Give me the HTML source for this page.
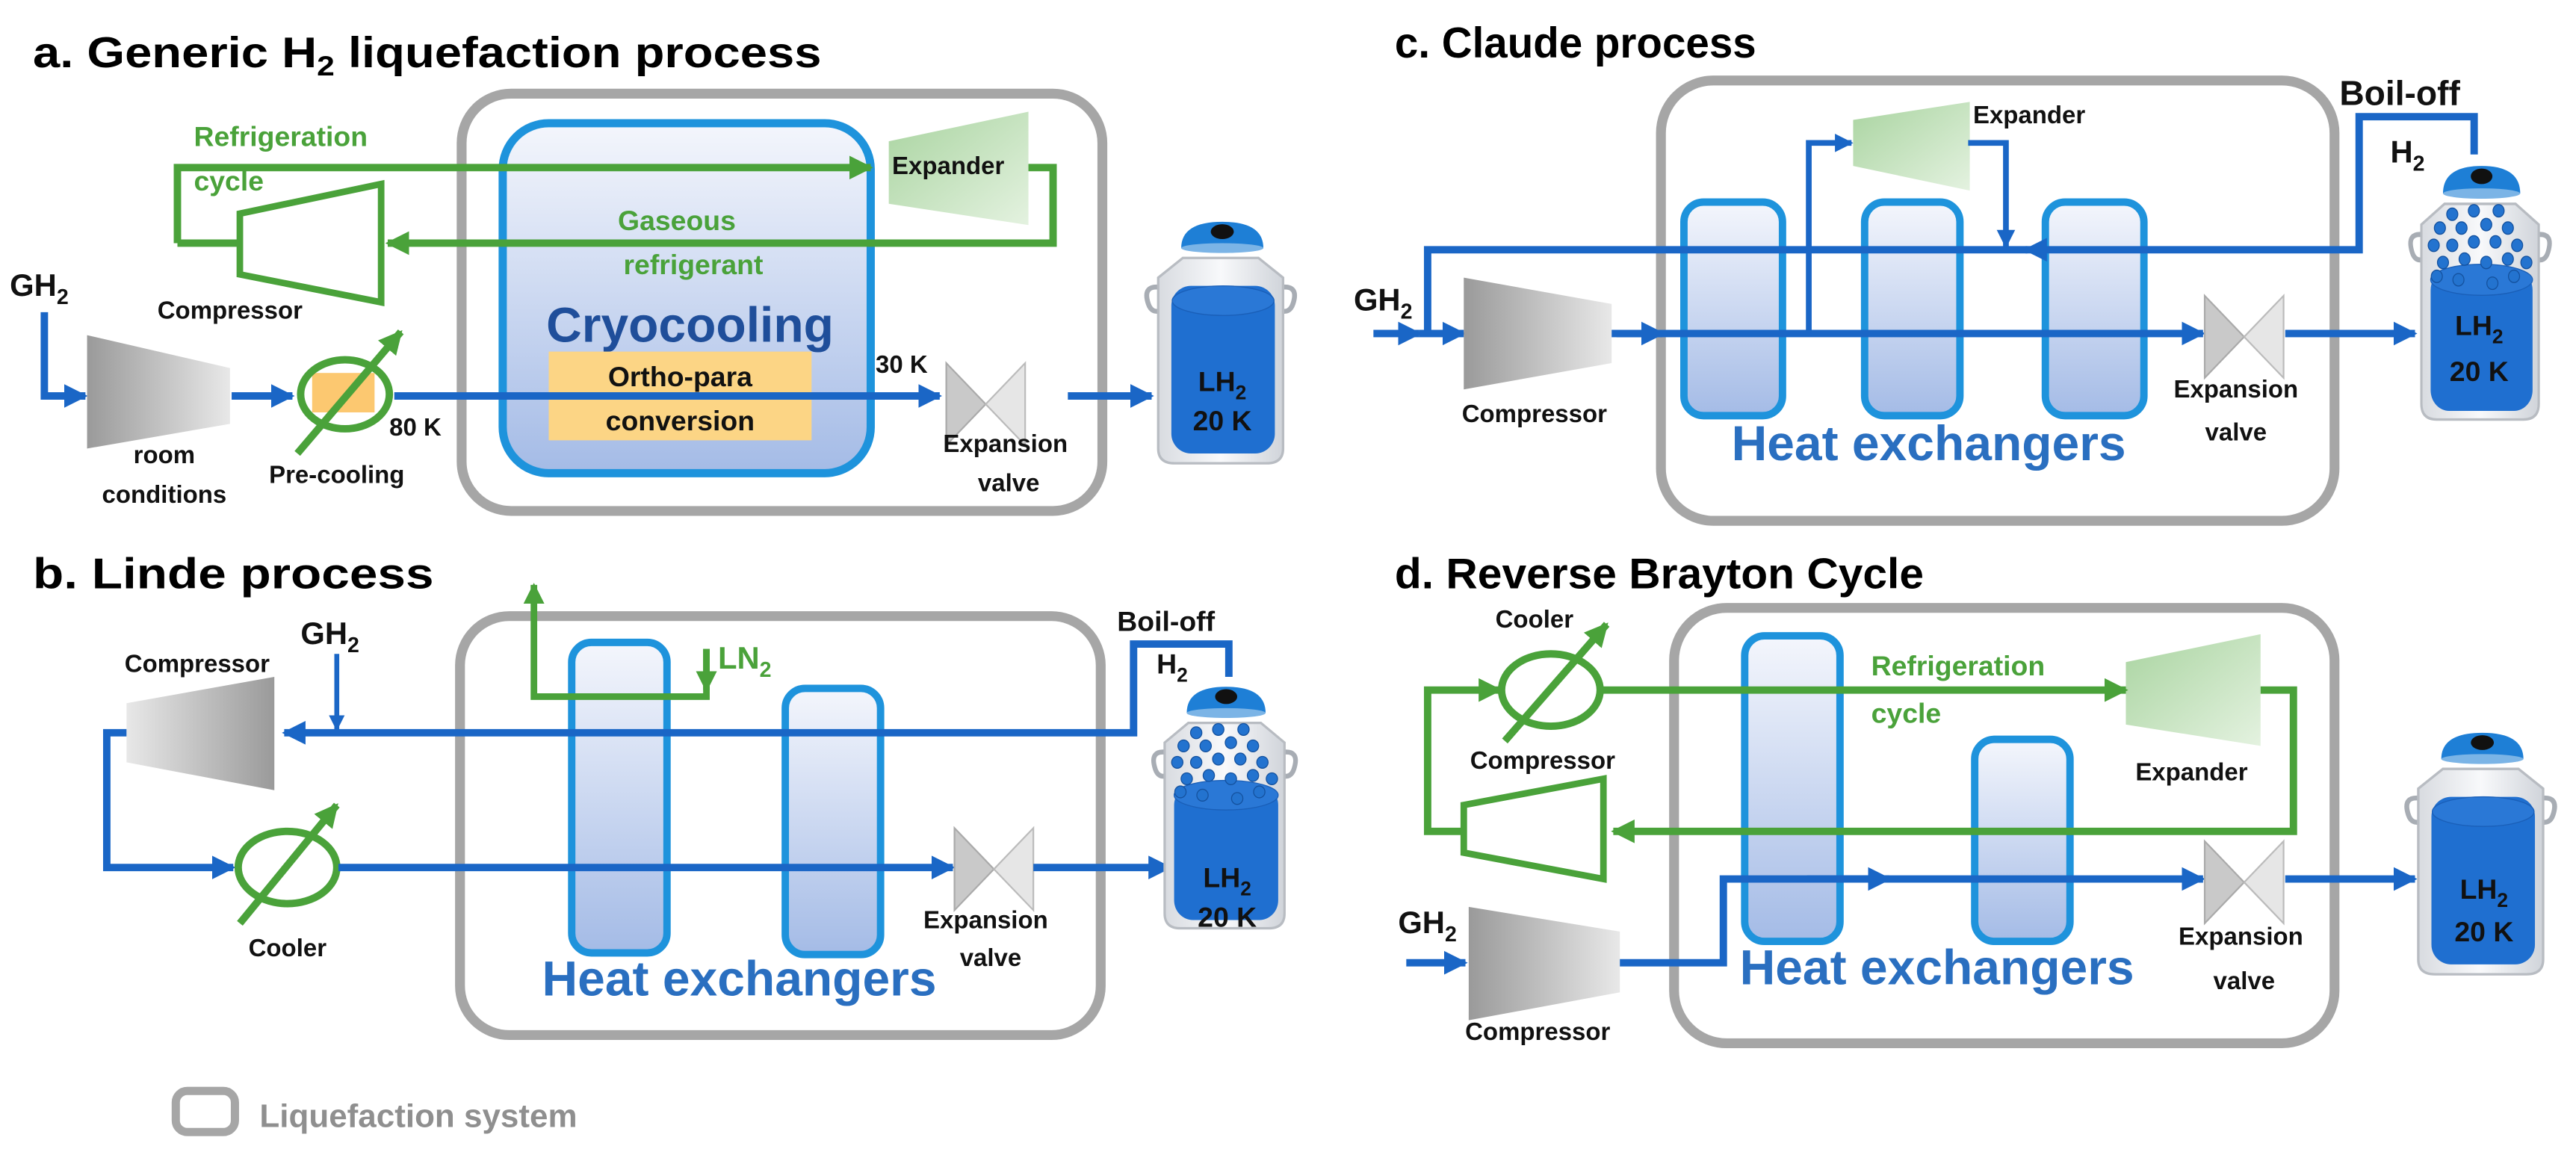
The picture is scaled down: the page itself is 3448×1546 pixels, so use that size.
<!DOCTYPE html>
<html><head><meta charset="utf-8"><style>
html,body{margin:0;padding:0;background:#fff}
svg{display:block}
text{font-family:"Liberation Sans Narrow","Liberation Sans",sans-serif;font-weight:bold}
</style></head><body>
<svg width="3448" height="1546" viewBox="0 0 1568 703" preserveAspectRatio="none" xmlns="http://www.w3.org/2000/svg">
<defs>
<marker id="ab" viewBox="0 0 10 10" refX="9" refY="5" markerWidth="3.2" markerHeight="3.2" orient="auto" markerUnits="strokeWidth"><path d="M0,0 L10,5 L0,10 z" fill="#1a66c6"/></marker>
<marker id="ag" viewBox="0 0 10 10" refX="9" refY="5" markerWidth="3.2" markerHeight="3.2" orient="auto" markerUnits="strokeWidth"><path d="M0,0 L10,5 L0,10 z" fill="#4aa23a"/></marker>
<linearGradient id="hx" x1="0" y1="0" x2="0" y2="1"><stop offset="0" stop-color="#f4f6fc"/><stop offset="1" stop-color="#a4bbe6"/></linearGradient>
<linearGradient id="gray" x1="0" y1="0" x2="1" y2="0"><stop offset="0" stop-color="#9a9a9a"/><stop offset="1" stop-color="#e8e8e8"/></linearGradient>
<linearGradient id="grayr" x1="1" y1="0" x2="0" y2="0"><stop offset="0" stop-color="#9a9a9a"/><stop offset="1" stop-color="#e8e8e8"/></linearGradient>
<linearGradient id="grn" x1="0" y1="0" x2="1" y2="1"><stop offset="0" stop-color="#a9d4a0"/><stop offset="1" stop-color="#e4f2e0"/></linearGradient>
<linearGradient id="tk" x1="0" y1="0" x2="1" y2="0"><stop offset="0" stop-color="#d8dbe0"/><stop offset="0.5" stop-color="#f8f9fb"/><stop offset="1" stop-color="#d0d4da"/></linearGradient>
<g id="shell">
<path d="M4,40 q-12,-2 -8,10 q2,6 8,4 M76,40 q12,-2 8,10 q-2,6 -8,4" fill="none" stroke="#a8adb4" stroke-width="3"/>
<path d="M17,22 L63,22 L78,34 L78,138 Q78,147 68,147 L12,147 Q2,147 2,138 L2,34 Z" fill="url(#tk)" stroke="#b8bcc2" stroke-width="1.5"/>
</g>
<g id="cap">
<path d="M16,16 Q16,0 41,0 Q66,0 66,16 Z" fill="#1e7fd6"/>
<ellipse cx="41" cy="16" rx="25" ry="3" fill="#7bb4e6"/>
<ellipse cx="41" cy="6" rx="7" ry="4.5" fill="#111"/>
</g>
<g id="tank">
<use href="#shell"/>
<rect x="10" y="39" width="63" height="102" rx="12" fill="#1f6fd0"/>
<ellipse cx="41.5" cy="48" rx="31" ry="9" fill="#2a78d6" stroke="#1a5fb8" stroke-width="0.6"/>
<use href="#cap"/>
</g>
<g id="tank2">
<use href="#shell"/>
<rect x="8" y="60" width="66" height="82" rx="12" fill="#1f6fd0"/>
<ellipse cx="41" cy="66" rx="33" ry="9" fill="#2a78d6" stroke="#1a5fb8" stroke-width="0.6"/>
<use href="#cap"/>
<g fill="#2373cf" stroke="#14519e" stroke-width="0.6">
<circle cx="22" cy="28" r="3.6"/><circle cx="36" cy="26" r="3.6"/><circle cx="52" cy="26" r="3.6"/>
<circle cx="14" cy="36" r="3.6"/><circle cx="28" cy="36" r="3.6"/><circle cx="44" cy="34" r="3.6"/><circle cx="58" cy="36" r="3.6"/>
<circle cx="10" cy="46" r="3.6"/><circle cx="22" cy="46" r="3.6"/><circle cx="36" cy="44" r="3.6"/><circle cx="50" cy="44" r="3.6"/><circle cx="64" cy="46" r="3.6"/>
<circle cx="16" cy="56" r="3.6"/><circle cx="30" cy="54" r="3.6"/><circle cx="44" cy="56" r="3.6"/><circle cx="58" cy="54" r="3.6"/><circle cx="70" cy="56" r="3.6"/>
<circle cx="12" cy="64" r="3.6"/><circle cx="26" cy="66" r="3.6"/><circle cx="48" cy="68" r="3.6"/><circle cx="62" cy="64" r="3.6"/>
</g>
</g>
<g id="valve">
<path d="M0,0 L24,25 L0,50 Z" fill="#c9c9c9" stroke="#aaa" stroke-width="1"/>
<path d="M48,0 L24,25 L48,50 Z" fill="#e6e6e6" stroke="#bbb" stroke-width="1"/>
</g>
</defs>

<!-- ===== Panel a ===== -->
<text x="20" y="41" font-size="26" textLength="480" lengthAdjust="spacingAndGlyphs">a. Generic H<tspan font-size="17" dy="5">2</tspan><tspan dy="-5"> liquefaction process</tspan></text>
<rect x="281" y="57" width="390" height="254" rx="30" fill="#fff" stroke="#a6a6a6" stroke-width="6"/>
<rect x="306" y="75" width="224" height="213" rx="28" fill="url(#hx)" stroke="#1e93dc" stroke-width="5"/>
<text x="420" y="208" font-size="30" fill="#1f4e9a" text-anchor="middle">Cryocooling</text>
<rect x="334" y="214" width="160" height="54" fill="#fcd585"/>
<text x="414" y="235" font-size="17" text-anchor="middle" fill="#111">Ortho-para</text>
<text x="414" y="262" font-size="17" text-anchor="middle" fill="#111">conversion</text>
<polyline points="108,148 108,102 530,102" fill="none" stroke="#4aa23a" stroke-width="4.5" marker-end="url(#ag)"/>
<polyline points="625,102 641,102 641,148 236,148" fill="none" stroke="#4aa23a" stroke-width="4.5" marker-end="url(#ag)"/>
<line x1="108" y1="148" x2="146" y2="148" stroke="#4aa23a" stroke-width="4.5"/>
<path d="M146,130 L232,112 L232,184 L146,167 Z" fill="#fff" stroke="#4aa23a" stroke-width="4"/>
<path d="M541,86 L626,68 L626,137 L541,124 Z" fill="url(#grn)"/>
<text x="543" y="106" font-size="15" fill="#111">Expander</text>
<text x="118" y="89" font-size="17" fill="#4aa23a">Refrigeration</text>
<text x="118" y="116" font-size="17" fill="#4aa23a">cycle</text>
<text x="412" y="140" font-size="17" fill="#4aa23a" text-anchor="middle">Gaseous</text>
<text x="422" y="167" font-size="17" fill="#4aa23a" text-anchor="middle">refrigerant</text>
<text x="140" y="194" font-size="15" fill="#111" text-anchor="middle">Compressor</text>
<text x="6" y="180" font-size="19" fill="#111">GH<tspan font-size="13" dy="5">2</tspan></text>
<polyline points="27,190 27,241 52,241" fill="none" stroke="#1a66c6" stroke-width="4.5" marker-end="url(#ab)"/>
<path d="M53,204 L140,224 L140,258 L53,273 Z" fill="url(#gray)"/>
<line x1="141" y1="241" x2="178" y2="241" stroke="#1a66c6" stroke-width="4.5" marker-end="url(#ab)"/>
<rect x="190" y="227" width="38" height="24" fill="#fcc870"/>
<ellipse cx="210" cy="240" rx="27" ry="21" fill="none" stroke="#4aa23a" stroke-width="4.5"/>
<line x1="240" y1="241" x2="572" y2="241" stroke="#1a66c6" stroke-width="4.5" marker-end="url(#ab)"/>
<line x1="181" y1="276" x2="244" y2="202" stroke="#4aa23a" stroke-width="4.5" marker-end="url(#ag)"/>
<text x="237" y="265" font-size="15" fill="#111">80 K</text>
<text x="533" y="227" font-size="15" fill="#111">30 K</text>
<use href="#valve" transform="translate(576,221)"/>
<line x1="650" y1="241" x2="701" y2="241" stroke="#1a66c6" stroke-width="4.5" marker-end="url(#ab)"/>
<text x="612" y="275" font-size="15" fill="#111" text-anchor="middle">Expansion</text>
<text x="614" y="299" font-size="15" fill="#111" text-anchor="middle">valve</text>
<text x="100" y="282" font-size="15" fill="#111" text-anchor="middle">room</text>
<text x="100" y="306" font-size="15" fill="#111" text-anchor="middle">conditions</text>
<text x="205" y="294" font-size="15" fill="#111" text-anchor="middle">Pre-cooling</text>
<use href="#tank" transform="translate(703,135)"/>
<text x="744" y="238" font-size="17" fill="#111" text-anchor="middle">LH<tspan font-size="12" dy="5">2</tspan></text>
<text x="744" y="262" font-size="17" fill="#111" text-anchor="middle">20 K</text>

<!-- ===== Panel b ===== -->
<text x="20" y="358" font-size="26" textLength="244" lengthAdjust="spacingAndGlyphs">b. Linde process</text>
<rect x="280" y="375" width="390" height="255" rx="30" fill="#fff" stroke="#a6a6a6" stroke-width="6"/>
<rect x="348" y="391" width="58" height="189" rx="12" fill="url(#hx)" stroke="#1e93dc" stroke-width="4.5"/>
<rect x="478" y="419" width="58" height="162" rx="12" fill="url(#hx)" stroke="#1e93dc" stroke-width="4.5"/>
<polyline points="430,395 430,424 325,424 325,356" fill="none" stroke="#4aa23a" stroke-width="4" marker-end="url(#ag)"/>
<line x1="430" y1="395" x2="430" y2="420" stroke="#4aa23a" stroke-width="4" marker-end="url(#ag)"/>
<text x="437" y="407" font-size="19" fill="#4aa23a">LN<tspan font-size="13" dy="5">2</tspan></text>
<polyline points="748,412 748,392 690,392 690,446 173,446" fill="none" stroke="#1a66c6" stroke-width="4.5" marker-end="url(#ab)"/>
<line x1="205" y1="398" x2="205" y2="444" stroke="#1a66c6" stroke-width="3" marker-end="url(#ab)"/>
<text x="183" y="392" font-size="19" fill="#111">GH<tspan font-size="13" dy="5">2</tspan></text>
<text x="680" y="384" font-size="17" fill="#111">Boil-off</text>
<text x="704" y="410" font-size="17" fill="#111">H<tspan font-size="12" dy="5">2</tspan></text>
<path d="M77,428 L167,412 L167,481 L77,464 Z" fill="url(#grayr)"/>
<text x="120" y="409" font-size="15" fill="#111" text-anchor="middle">Compressor</text>
<polyline points="77,446 65,446 65,528 142,528" fill="none" stroke="#1a66c6" stroke-width="4.5" marker-end="url(#ab)"/>
<ellipse cx="175" cy="528" rx="30" ry="22" fill="none" stroke="#4aa23a" stroke-width="4.5"/>
<line x1="146" y1="562" x2="205" y2="490" stroke="#4aa23a" stroke-width="4.5" marker-end="url(#ag)"/>
<line x1="206" y1="528" x2="580" y2="528" stroke="#1a66c6" stroke-width="4.5" marker-end="url(#ab)"/>
<use href="#valve" transform="translate(581,504)"/>
<line x1="629" y1="528" x2="712" y2="528" stroke="#1a66c6" stroke-width="4.5" marker-end="url(#ab)"/>
<text x="175" y="582" font-size="15" fill="#111" text-anchor="middle">Cooler</text>
<text x="600" y="565" font-size="15" fill="#111" text-anchor="middle">Expansion</text>
<text x="603" y="588" font-size="15" fill="#111" text-anchor="middle">valve</text>
<text x="450" y="606" font-size="30" fill="#2a6fc0" text-anchor="middle">Heat exchangers</text>
<use href="#tank2" transform="translate(707,418) scale(0.96,1)"/>
<text x="747" y="540" font-size="17" fill="#111" text-anchor="middle">LH<tspan font-size="12" dy="5">2</tspan></text>
<text x="747" y="564" font-size="17" fill="#111" text-anchor="middle">20 K</text>
<rect x="107" y="664" width="36" height="25" rx="7" fill="#fff" stroke="#a6a6a6" stroke-width="5"/>
<text x="158" y="686" font-size="20" fill="#8f8f8f">Liquefaction system</text>

<!-- ===== Panel c ===== -->
<text x="849" y="35" font-size="26" textLength="220" lengthAdjust="spacingAndGlyphs">c. Claude process</text>
<rect x="1011" y="49" width="410" height="268" rx="32" fill="#fff" stroke="#a6a6a6" stroke-width="6"/>
<rect x="1025" y="123" width="60" height="130" rx="12" fill="url(#hx)" stroke="#1e93dc" stroke-width="4.5"/>
<rect x="1135" y="123" width="58" height="130" rx="12" fill="url(#hx)" stroke="#1e93dc" stroke-width="4.5"/>
<rect x="1245" y="123" width="60" height="130" rx="12" fill="url(#hx)" stroke="#1e93dc" stroke-width="4.5"/>
<path d="M1128,73 L1199,62 L1199,116 L1128,101 Z" fill="url(#grn)"/>
<text x="1201" y="75" font-size="15" fill="#111">Expander</text>
<polyline points="1506,94 1506,71 1436,71 1436,152 1233,152" fill="none" stroke="#1a66c6" stroke-width="4.5" marker-end="url(#ab)"/>
<polyline points="1234,152 869,152 869,203" fill="none" stroke="#1a66c6" stroke-width="4.5"/>
<polyline points="1198,87 1221,87 1221,150" fill="none" stroke="#1a66c6" stroke-width="3.5" marker-end="url(#ab)"/>
<polyline points="1101,203 1101,87 1127,87" fill="none" stroke="#1a66c6" stroke-width="3.5" marker-end="url(#ab)"/>
<line x1="836" y1="203" x2="864" y2="203" stroke="#1a66c6" stroke-width="4.5" marker-end="url(#ab)"/>
<line x1="864" y1="203" x2="891" y2="203" stroke="#1a66c6" stroke-width="4.5" marker-end="url(#ab)"/>
<path d="M891,169 L981,185 L981,221 L891,237 Z" fill="url(#gray)"/>
<line x1="981" y1="203" x2="1341" y2="203" stroke="#1a66c6" stroke-width="4.5" marker-end="url(#ab)"/>
<line x1="984" y1="203" x2="1012" y2="203" stroke="#1a66c6" stroke-width="4.5" marker-end="url(#ab)"/>
<use href="#valve" transform="translate(1342,180)"/>
<line x1="1391" y1="203" x2="1470" y2="203" stroke="#1a66c6" stroke-width="4.5" marker-end="url(#ab)"/>
<text x="824" y="189" font-size="19" fill="#111">GH<tspan font-size="13" dy="5">2</tspan></text>
<text x="1424" y="64" font-size="21" fill="#111">Boil-off</text>
<text x="1455" y="99" font-size="19" fill="#111">H<tspan font-size="13" dy="5">2</tspan></text>
<text x="934" y="257" font-size="15" fill="#111" text-anchor="middle">Compressor</text>
<text x="1174" y="280" font-size="30" fill="#2a6fc0" text-anchor="middle">Heat exchangers</text>
<text x="1361" y="242" font-size="15" fill="#111" text-anchor="middle">Expansion</text>
<text x="1361" y="268" font-size="15" fill="#111" text-anchor="middle">valve</text>
<use href="#tank2" transform="translate(1472,101) scale(0.94,1.05)"/>
<text x="1509" y="204" font-size="17" fill="#111" text-anchor="middle">LH<tspan font-size="12" dy="5">2</tspan></text>
<text x="1509" y="232" font-size="17" fill="#111" text-anchor="middle">20 K</text>

<!-- ===== Panel d ===== -->
<text x="849" y="358" font-size="26" textLength="322" lengthAdjust="spacingAndGlyphs">d. Reverse Brayton Cycle</text>
<rect x="1019" y="370" width="402" height="265" rx="32" fill="#fff" stroke="#a6a6a6" stroke-width="6"/>
<rect x="1062" y="387" width="58" height="186" rx="12" fill="url(#hx)" stroke="#1e93dc" stroke-width="4.5"/>
<rect x="1202" y="450" width="58" height="123" rx="12" fill="url(#hx)" stroke="#1e93dc" stroke-width="4.5"/>
<path d="M1294,403 L1376,386 L1376,454 L1294,441 Z" fill="url(#grn)"/>
<line x1="974" y1="420" x2="1294" y2="420" stroke="#4aa23a" stroke-width="4.5" marker-end="url(#ag)"/>
<polyline points="1376,420 1396,420 1396,506 982,506" fill="none" stroke="#4aa23a" stroke-width="4.5" marker-end="url(#ag)"/>
<polyline points="890,506 869,506 869,420 913,420" fill="none" stroke="#4aa23a" stroke-width="4.5" marker-end="url(#ag)"/>
<ellipse cx="944" cy="420" rx="30" ry="22" fill="none" stroke="#4aa23a" stroke-width="4.5"/>
<line x1="916" y1="451" x2="978" y2="380" stroke="#4aa23a" stroke-width="4.5" marker-end="url(#ag)"/>
<path d="M891,490 L976,474 L976,535 L891,519 Z" fill="#fff" stroke="#4aa23a" stroke-width="4"/>
<text x="934" y="382" font-size="15" fill="#111" text-anchor="middle">Cooler</text>
<text x="939" y="468" font-size="15" fill="#111" text-anchor="middle">Compressor</text>
<text x="1139" y="411" font-size="17" fill="#4aa23a">Refrigeration</text>
<text x="1139" y="440" font-size="17" fill="#4aa23a">cycle</text>
<text x="1334" y="475" font-size="15" fill="#111" text-anchor="middle">Expander</text>
<text x="851" y="568" font-size="19" fill="#111">GH<tspan font-size="13" dy="5">2</tspan></text>
<line x1="856" y1="586" x2="892" y2="586" stroke="#1a66c6" stroke-width="4.5" marker-end="url(#ab)"/>
<path d="M894,552 L986,567 L986,604 L894,621 Z" fill="url(#gray)"/>
<polyline points="986,586 1049,586 1049,535 1341,535" fill="none" stroke="#1a66c6" stroke-width="4.5" marker-end="url(#ab)"/>
<line x1="1100" y1="535" x2="1150" y2="535" stroke="#1a66c6" stroke-width="4.5" marker-end="url(#ab)"/>
<use href="#valve" transform="translate(1342,512)"/>
<line x1="1391" y1="535" x2="1470" y2="535" stroke="#1a66c6" stroke-width="4.5" marker-end="url(#ab)"/>
<text x="936" y="633" font-size="15" fill="#111" text-anchor="middle">Compressor</text>
<text x="1179" y="599" font-size="30" fill="#2a6fc0" text-anchor="middle">Heat exchangers</text>
<text x="1364" y="575" font-size="15" fill="#111" text-anchor="middle">Expansion</text>
<text x="1366" y="602" font-size="15" fill="#111" text-anchor="middle">valve</text>
<use href="#tank" transform="translate(1470,446)"/>
<text x="1512" y="547" font-size="17" fill="#111" text-anchor="middle">LH<tspan font-size="12" dy="5">2</tspan></text>
<text x="1512" y="573" font-size="17" fill="#111" text-anchor="middle">20 K</text>
</svg>
</body></html>
